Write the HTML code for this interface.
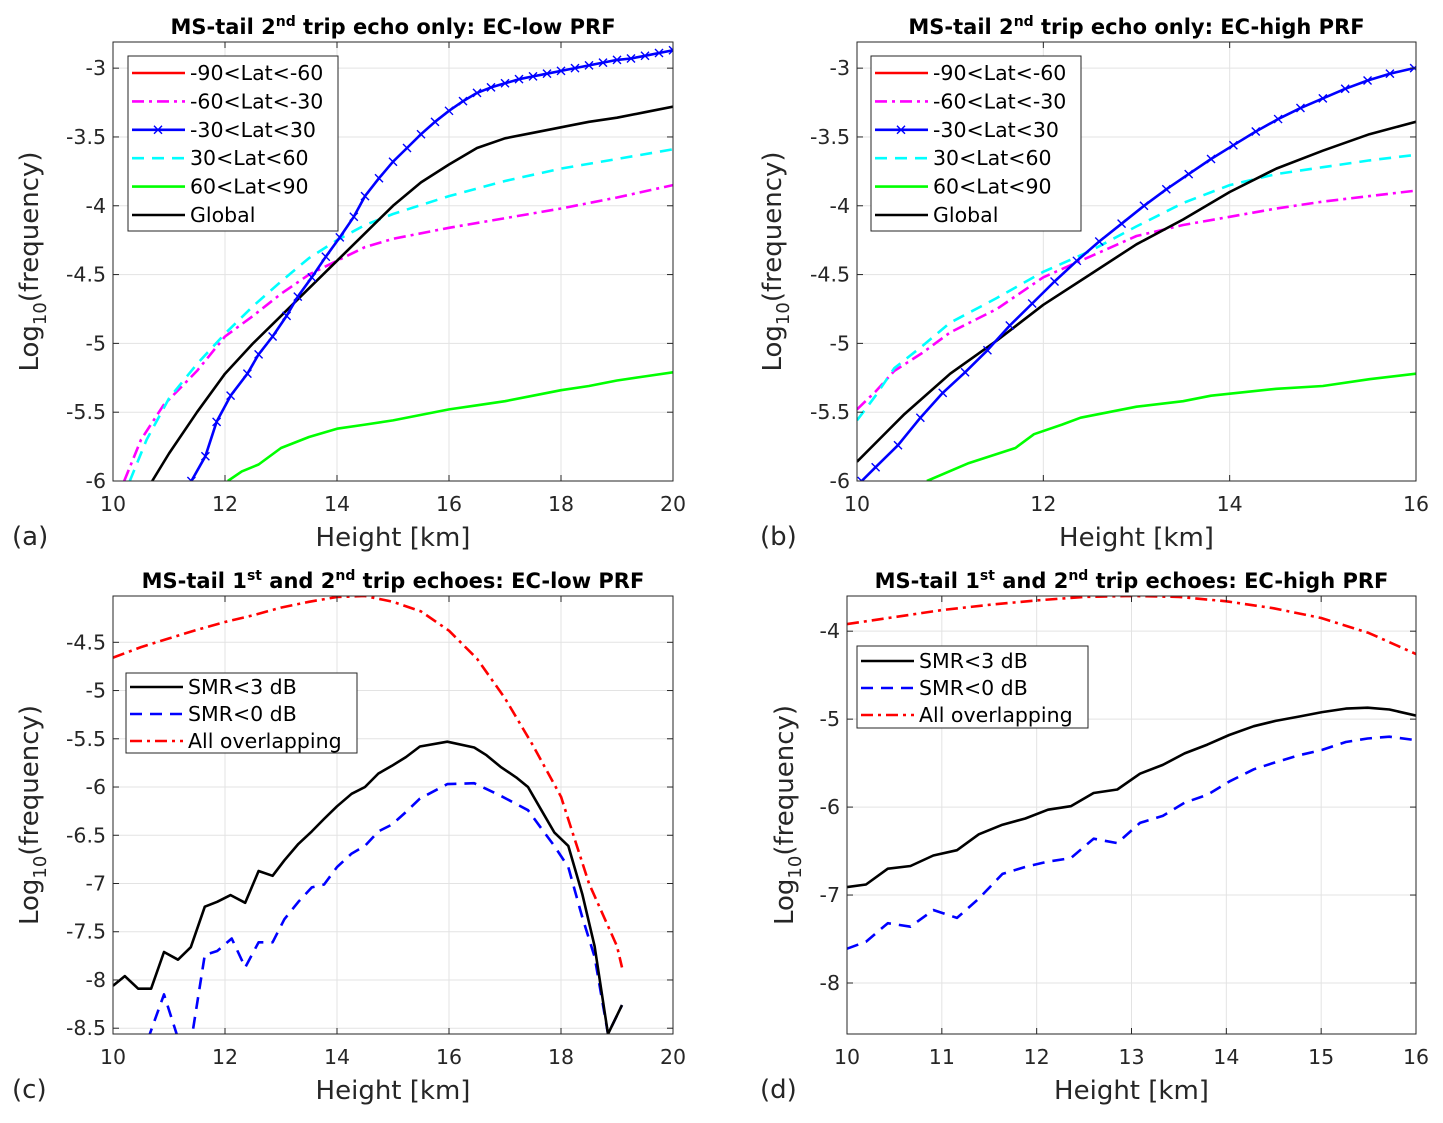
<!DOCTYPE html>
<html><head><meta charset="utf-8">
<style>
html,body{margin:0;padding:0;background:#fff;}
svg{display:block;font-family:"DejaVu Sans","Liberation Sans",sans-serif;}
.tick{font-size:20.5px;fill:#262626;}
.alab{font-size:26px;fill:#262626;}
.ttl{font-size:21px;font-weight:bold;fill:#000;}
.leg{font-size:20.5px;fill:#000;}
</style></head>
<body>
<svg id="fig" width="1443" height="1123" viewBox="0 0 1443 1123" xmlns="http://www.w3.org/2000/svg"></svg>
<script>
// ---------- Panel (a) data: EC-low PRF, 2nd trip echo only ----------
const aGlobalX=[10.7,11,11.5,12,12.5,13,13.5,14,14.5,15,15.5,16,16.5,17,17.5,18,18.5,19,19.5,20];
const aGlobalY=[-6,-5.8,-5.5,-5.22,-5.0,-4.8,-4.6,-4.4,-4.2,-4.0,-3.83,-3.7,-3.58,-3.51,-3.47,-3.43,-3.39,-3.36,-3.32,-3.28];
const aTropX=[11.4,11.65,11.85,12.1,12.4,12.6,12.85,13.1,13.3,13.55,13.8,14.05,14.3,14.5,14.75,15.0,15.25,15.5,15.75,16,16.25,16.5,16.75,17,17.25,17.5,17.75,18,18.25,18.5,18.75,19,19.25,19.5,19.75,20];
const aTropY=[-6,-5.82,-5.57,-5.38,-5.22,-5.08,-4.95,-4.8,-4.66,-4.52,-4.37,-4.23,-4.08,-3.93,-3.8,-3.68,-3.58,-3.48,-3.39,-3.31,-3.24,-3.18,-3.14,-3.11,-3.08,-3.06,-3.04,-3.02,-3.0,-2.98,-2.96,-2.94,-2.93,-2.91,-2.89,-2.87];
const aSMidX=[10.2,10.5,10.9,11.5,12,12.5,13,13.5,14,14.5,15,16,17,18,19,20];
const aSMidY=[-6,-5.7,-5.45,-5.2,-4.95,-4.8,-4.64,-4.5,-4.4,-4.3,-4.24,-4.16,-4.09,-4.02,-3.94,-3.85];
const aNMidX=[10.3,10.6,11,11.5,12,12.5,13,13.5,14,14.5,15,16,17,18,19,20];
const aNMidY=[-6,-5.7,-5.4,-5.15,-4.93,-4.73,-4.55,-4.38,-4.25,-4.14,-4.06,-3.93,-3.82,-3.73,-3.66,-3.59];
const aNPolX=[12.05,12.3,12.6,13,13.5,14,14.5,15,15.5,16,16.5,17,17.5,18,18.5,19,19.5,20];
const aNPolY=[-6,-5.93,-5.88,-5.76,-5.68,-5.62,-5.59,-5.56,-5.52,-5.48,-5.45,-5.42,-5.38,-5.34,-5.31,-5.27,-5.24,-5.21];

// ---------- Panel (b) data: EC-high PRF, 2nd trip echo only ----------
const bGlobalX=[10,10.5,11,11.5,12,12.5,13,13.5,14,14.5,15,15.5,16];
const bGlobalY=[-5.86,-5.52,-5.22,-4.98,-4.72,-4.5,-4.28,-4.1,-3.9,-3.73,-3.6,-3.48,-3.39];
const bTropX=[10.05,10.2,10.44,10.68,10.92,11.16,11.4,11.64,11.88,12.12,12.36,12.6,12.84,13.08,13.32,13.56,13.8,14.04,14.28,14.52,14.76,15.0,15.24,15.48,15.72,15.98];
const bTropY=[-6,-5.90,-5.74,-5.54,-5.36,-5.21,-5.05,-4.87,-4.71,-4.55,-4.40,-4.26,-4.13,-4.00,-3.88,-3.77,-3.66,-3.56,-3.46,-3.37,-3.29,-3.22,-3.15,-3.09,-3.04,-3.0];
const bSMidX=[10,10.2,10.4,10.7,11,11.5,12,12.5,13,13.5,14,14.5,15,15.5,16];
const bSMidY=[-5.48,-5.35,-5.2,-5.07,-4.92,-4.75,-4.52,-4.37,-4.22,-4.14,-4.08,-4.02,-3.97,-3.93,-3.89];
const bNMidX=[10,10.2,10.4,10.7,11,11.5,12,12.5,13,13.5,14,14.5,15,15.5,16];
const bNMidY=[-5.56,-5.38,-5.18,-5.02,-4.85,-4.67,-4.48,-4.33,-4.15,-3.98,-3.85,-3.77,-3.72,-3.67,-3.63];
const bNPolX=[10.75,11.2,11.7,11.9,12.2,12.4,13,13.5,13.8,14.5,15,15.5,16];
const bNPolY=[-6,-5.87,-5.76,-5.66,-5.59,-5.54,-5.46,-5.42,-5.38,-5.33,-5.31,-5.26,-5.22];

// ---------- Panel (c) data: EC-low PRF, 1st and 2nd trip echoes ----------
const cSmr3X=[10.0,10.21,10.45,10.68,10.91,11.16,11.39,11.64,11.86,12.10,12.36,12.60,12.85,13.06,13.31,13.55,13.77,14.0,14.26,14.50,14.74,14.98,15.23,15.48,15.97,16.45,16.67,16.92,17.2,17.41,17.65,17.88,18.13,18.38,18.6,18.84,19.09];
const cSmr3Y=[-8.06,-7.96,-8.09,-8.09,-7.71,-7.79,-7.66,-7.24,-7.19,-7.12,-7.20,-6.87,-6.92,-6.76,-6.59,-6.46,-6.33,-6.20,-6.07,-6.0,-5.86,-5.78,-5.69,-5.58,-5.53,-5.59,-5.67,-5.79,-5.9,-6.0,-6.24,-6.47,-6.61,-7.11,-7.65,-8.56,-8.26];
const cSmr0X=[10.62,10.91,11.17,11.4,11.64,11.86,12.12,12.36,12.6,12.85,13.06,13.31,13.55,13.77,14.0,14.26,14.5,14.74,14.98,15.23,15.48,15.97,16.45,16.92,17.41,17.65,17.88,18.13,18.38,18.6,18.84,19.09];
const cSmr0Y=[-8.62,-8.15,-8.62,-8.62,-7.74,-7.7,-7.57,-7.87,-7.61,-7.61,-7.37,-7.19,-7.04,-7.01,-6.83,-6.69,-6.61,-6.46,-6.39,-6.26,-6.12,-5.97,-5.96,-6.09,-6.24,-6.43,-6.61,-6.83,-7.35,-7.76,-8.56,-8.26];
const cAllX=[10,10.5,11,11.5,12,12.5,13,13.5,14,14.5,15,15.5,16,16.5,17,17.5,18,18.5,19,19.09];
const cAllY=[-4.66,-4.55,-4.46,-4.37,-4.29,-4.22,-4.14,-4.08,-4.03,-4.02,-4.08,-4.18,-4.38,-4.67,-5.08,-5.57,-6.1,-7.0,-7.65,-7.87];

// ---------- Panel (d) data: EC-high PRF, 1st and 2nd trip echoes ----------
const dSmr3X=[10,10.2,10.43,10.67,10.91,11.16,11.39,11.64,11.88,12.12,12.36,12.6,12.85,13.09,13.33,13.56,13.8,14.03,14.29,14.52,14.77,15.01,15.26,15.49,15.72,16];
const dSmr3Y=[-6.91,-6.88,-6.70,-6.67,-6.55,-6.49,-6.31,-6.2,-6.13,-6.03,-5.99,-5.84,-5.80,-5.62,-5.52,-5.39,-5.29,-5.18,-5.08,-5.02,-4.97,-4.92,-4.88,-4.87,-4.89,-4.96];
const dSmr0X=dSmr3X.slice();
const dSmr0Y=[-7.61,-7.53,-7.32,-7.36,-7.17,-7.26,-7.04,-6.76,-6.68,-6.62,-6.58,-6.36,-6.41,-6.18,-6.10,-5.95,-5.86,-5.71,-5.57,-5.49,-5.41,-5.35,-5.26,-5.22,-5.2,-5.24];
const dAllX=[10,10.5,11,11.5,12,12.5,13,13.5,14,14.5,15,15.5,16];
const dAllY=[-3.92,-3.84,-3.76,-3.7,-3.65,-3.61,-3.6,-3.61,-3.66,-3.74,-3.85,-4.02,-4.26];

// tick labels
const abYTicks=[-6,-5.5,-5,-4.5,-4,-3.5,-3];
const cYTicks=[-8.5,-8,-7.5,-7,-6.5,-6,-5.5,-5,-4.5];
const dYTicks=[-8,-7,-6,-5,-4];
const acXTicks=[10,12,14,16,18,20];
const bXTicks=[10,12,14,16];
const dXTicks=[10,11,12,13,14,15,16];
const latLabels=["-90<Lat<-60","-60<Lat<-30","-30<Lat<30","30<Lat<60","60<Lat<90","Global"];
const smrLabels=["SMR<3 dB","SMR<0 dB","All overlapping"];

const NS="http://www.w3.org/2000/svg";
const fig=document.getElementById('fig');
function mk(tag,attrs,parent){const e=document.createElementNS(NS,tag);for(const k in attrs)e.setAttribute(k,attrs[k]);(parent||fig).appendChild(e);return e;}

const STY={
  red:{stroke:'#ff0000',dash:''},
  mag:{stroke:'#ff00ff',dash:'12 5 3 5'},
  blue:{stroke:'#0000ff',dash:''},
  cyan:{stroke:'#00ffff',dash:'12 8'},
  green:{stroke:'#00ff00',dash:''},
  black:{stroke:'#000000',dash:''},
  bdash:{stroke:'#0000ff',dash:'12 8'},
  rdd:{stroke:'#ff0000',dash:'12 5 3 5'}
};

let clipN=0;
function panel(p){
  const g=mk('g',{});
  
  
  const {L,R,T,B,x0,x1,y0,y1}=p;
  const sx=v=>L+(v-x0)/(x1-x0)*(R-L);
  const sy=v=>B-(v-y0)/(y1-y0)*(B-T);
  p.xt.forEach(t=>{const l=mk('line',{x1:sx(t),x2:sx(t),y1:T,y2:B,stroke:'#e3e3e3','stroke-width':1},g);
    });
  p.yt.forEach(t=>{const l=mk('line',{x1:L,x2:R,y1:sy(t),y2:sy(t),stroke:'#e3e3e3','stroke-width':1},g);
    });
  const cid='clip'+(clipN++);
  const cp=mk('clipPath',{id:cid},g);mk('rect',{x:L,y:T,width:R-L,height:B-T},cp);
  const sg=mk('g',{'clip-path':'url(#'+cid+')'},g);
  p.series.forEach(s=>{
    const st=STY[s.style];
    const pts=s.x.map((v,i)=>sx(v).toFixed(1)+','+sy(s.y[i]).toFixed(1)).join(' ');
    const pl=mk('polyline',{points:pts,fill:'none',stroke:st.stroke,'stroke-width':2.6,'stroke-linejoin':'round'},sg);
    if(st.dash)pl.setAttribute('stroke-dasharray',st.dash);
    
    
    if(s.marker){s.x.forEach((v,i)=>{const cx=sx(v),cy=sy(s.y[i]),r=4;
      const m=mk('path',{d:`M${cx-r},${cy-r}L${cx+r},${cy+r}M${cx-r},${cy+r}L${cx+r},${cy-r}`,stroke:st.stroke,'stroke-width':1.4},sg);
      });}
  });
  const bx=mk('rect',{x:L,y:T,width:R-L,height:B-T,fill:'none',stroke:'#262626','stroke-width':1},g);
  
  p.xt.forEach(t=>{mk('line',{x1:sx(t),x2:sx(t),y1:B,y2:B-6,stroke:'#262626'},g);mk('line',{x1:sx(t),x2:sx(t),y1:T,y2:T+6,stroke:'#262626'},g);
    const tx=mk('text',{x:sx(t),y:B+30,'text-anchor':'middle',class:'tick'},g);tx.textContent=t;
    });
  p.yt.forEach(t=>{mk('line',{x1:L,x2:L+6,y1:sy(t),y2:sy(t),stroke:'#262626'},g);mk('line',{x1:R,x2:R-6,y1:sy(t),y2:sy(t),stroke:'#262626'},g);
    const tx=mk('text',{x:L-7,y:sy(t)+7,'text-anchor':'end',class:'tick'},g);tx.textContent=t;
    });
  const xl=mk('text',{x:(L+R)/2,y:B+65,'text-anchor':'middle',class:'alab'},g);xl.textContent='Height [km]';
  
  const yl=mk('text',{x:0,y:0,'text-anchor':'middle',class:'alab',transform:`translate(${p.ylx},${(T+B)/2}) rotate(-90)`},g);
  yl.innerHTML='Log<tspan dy="8" font-size="18">10</tspan><tspan dy="-8">(frequency)</tspan>';
  
  const pl=mk('text',{x:p.plx,y:B+64,class:'alab'},g);pl.textContent=p.letter;
  
  const tt=mk('text',{x:(L+R)/2,y:T-8,'text-anchor':'middle',class:'ttl'},g);tt.innerHTML=p.title;
  
  const lg=p.legend;
  const lgG=mk('g',{},g);
  
  mk('rect',{x:lg.x,y:lg.y,width:lg.w,height:lg.h,fill:'#fff',stroke:'#262626','stroke-width':1},lgG);
  lg.items.forEach((it,i)=>{
    const ry=lg.y+lg.r0+i*lg.dy;const st=STY[it.style];
    const ln=mk('line',{x1:lg.x+4,x2:lg.x+57,y1:ry,y2:ry,stroke:st.stroke,'stroke-width':2.6},lgG);
    if(st.dash)ln.setAttribute('stroke-dasharray',st.dash);
    
    if(it.marker){const cx=lg.x+30,r=4;mk('path',{d:`M${cx-r},${ry-r}L${cx+r},${ry+r}M${cx-r},${ry+r}L${cx+r},${ry-r}`,stroke:st.stroke,'stroke-width':1.4},lgG);}
    const t=mk('text',{x:lg.x+62,y:ry+7,class:'leg'},lgG);t.textContent=it.label;
    
  });
}

const latStyles=['red','mag','blue','cyan','green','black'];
function latLegend(x){return {x:x,y:56,w:210,h:175,r0:17,dy:28.4,items:latLabels.map((l,i)=>({label:l,style:latStyles[i],marker:i===2}))};}

panel({name:'panel-a',L:113,R:673,T:42,B:481,x0:10,x1:20,y0:-6,y1:-2.81,xt:acXTicks,yt:abYTicks,ylx:38,plx:12,letter:'(a)',
  title:'MS-tail 2<tspan dy="-8" font-size="14">nd</tspan><tspan dy="8"> trip echo only: EC-low PRF</tspan>',
  series:[{name:'series-lat-n60-n30',x:aSMidX,y:aSMidY,style:'mag'},{name:'series-lat-30-60',x:aNMidX,y:aNMidY,style:'cyan'},
    {name:'series-lat-60-90',x:aNPolX,y:aNPolY,style:'green'},{name:'series-global',x:aGlobalX,y:aGlobalY,style:'black'},
    {name:'series-lat-n30-30',x:aTropX,y:aTropY,style:'blue',marker:true}],
  legend:latLegend(128)});

panel({name:'panel-b',L:857,R:1416,T:42,B:481,x0:10,x1:16,y0:-6,y1:-2.81,xt:bXTicks,yt:abYTicks,ylx:781,plx:760,letter:'(b)',
  title:'MS-tail 2<tspan dy="-8" font-size="14">nd</tspan><tspan dy="8"> trip echo only: EC-high PRF</tspan>',
  series:[{name:'series-lat-n60-n30',x:bSMidX,y:bSMidY,style:'mag'},{name:'series-lat-30-60',x:bNMidX,y:bNMidY,style:'cyan'},
    {name:'series-lat-60-90',x:bNPolX,y:bNPolY,style:'green'},{name:'series-global',x:bGlobalX,y:bGlobalY,style:'black'},
    {name:'series-lat-n30-30',x:bTropX,y:bTropY,style:'blue',marker:true}],
  legend:latLegend(871)});

panel({name:'panel-c',L:113,R:673,T:596,B:1034,x0:10,x1:20,y0:-8.56,y1:-4.02,xt:acXTicks,yt:cYTicks,ylx:38,plx:12,letter:'(c)',
  title:'MS-tail 1<tspan dy="-8" font-size="14">st</tspan><tspan dy="8"> and 2</tspan><tspan dy="-8" font-size="14">nd</tspan><tspan dy="8"> trip echoes: EC-low PRF</tspan>',
  series:[{name:'series-all-overlapping',x:cAllX,y:cAllY,style:'rdd'},{name:'series-smr-lt-0db',x:cSmr0X,y:cSmr0Y,style:'bdash'},
    {name:'series-smr-lt-3db',x:cSmr3X,y:cSmr3Y,style:'black'}],
  legend:{x:126,y:673,w:231,h:80,r0:14,dy:27,items:smrLabels.map((l,i)=>({label:l,style:['black','bdash','rdd'][i]}))}});

panel({name:'panel-d',L:847,R:1416,T:596,B:1034,x0:10,x1:16,y0:-8.58,y1:-3.6,xt:dXTicks,yt:dYTicks,ylx:793,plx:760,letter:'(d)',
  title:'MS-tail 1<tspan dy="-8" font-size="14">st</tspan><tspan dy="8"> and 2</tspan><tspan dy="-8" font-size="14">nd</tspan><tspan dy="8"> trip echoes: EC-high PRF</tspan>',
  series:[{name:'series-all-overlapping',x:dAllX,y:dAllY,style:'rdd'},{name:'series-smr-lt-0db',x:dSmr0X,y:dSmr0Y,style:'bdash'},
    {name:'series-smr-lt-3db',x:dSmr3X,y:dSmr3Y,style:'black'}],
  legend:{x:857,y:646,w:231,h:82,r0:15,dy:27,items:smrLabels.map((l,i)=>({label:l,style:['black','bdash','rdd'][i]}))}});
</script>
</body></html>
